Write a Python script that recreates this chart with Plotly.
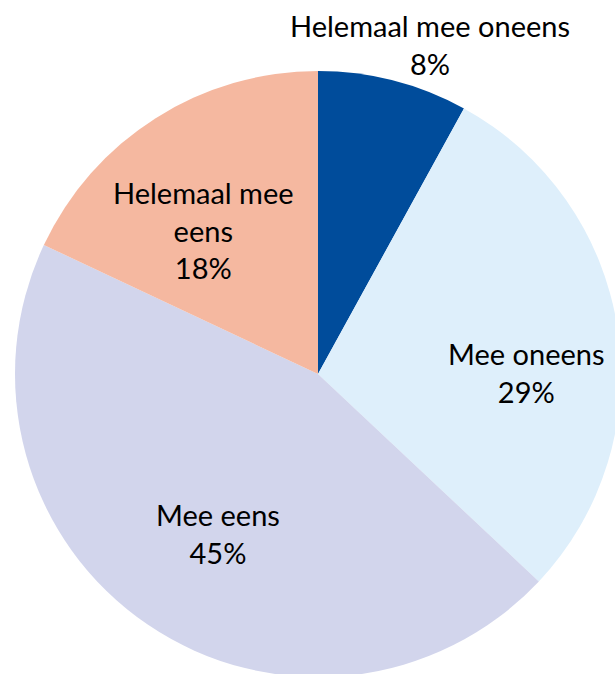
import plotly.graph_objects as go

labels = ["Helemaal mee oneens", "Mee oneens", "Mee eens", "Helemaal mee eens"]
values = [8, 29, 45, 18]
display_labels = ["Helemaal mee oneens", "Mee oneens", "Mee eens", "Helemaal mee<br>eens"]
colors = ["#004C9B", "#DEEFFB", "#D2D5EC", "#F5B8A0"]

# label placement (pixel centres in the 640x700 figure)
label_px = [(430, 45), (526, 372), (218, 533), (203, 230)]

W, H = 640, 700

fig = go.Figure(go.Pie(
    labels=labels,
    values=values,
    textinfo="none",
    sort=False,
    direction="clockwise",
    rotation=0,
    automargin=False,
    marker=dict(colors=colors, line=dict(width=0)),
    showlegend=False,
    hoverinfo="label+percent",
    domain=dict(x=[15 / W, 621 / W], y=[1 - 677 / H, 1 - 71 / H]),
))

total = sum(values)
for lab, val, (px, py) in zip(display_labels, values, label_px):
    fig.add_annotation(
        x=px / W, y=1 - py / H, xref="paper", yref="paper",
        text=f"{lab}<br>{round(100 * val / total)}%",
        showarrow=False, xanchor="center", yanchor="middle", align="center",
        font=dict(family="Lato", size=29, color="black"),
    )

fig.update_layout(
    width=W,
    height=H,
    margin=dict(l=0, r=0, t=0, b=0, autoexpand=False),
    paper_bgcolor="white",
    plot_bgcolor="white",
)

fig.write_html(
    "out.html",
    config={"displayModeBar": False},
    post_script="document.body.style.margin='0';document.body.style.overflow='hidden';",
)
